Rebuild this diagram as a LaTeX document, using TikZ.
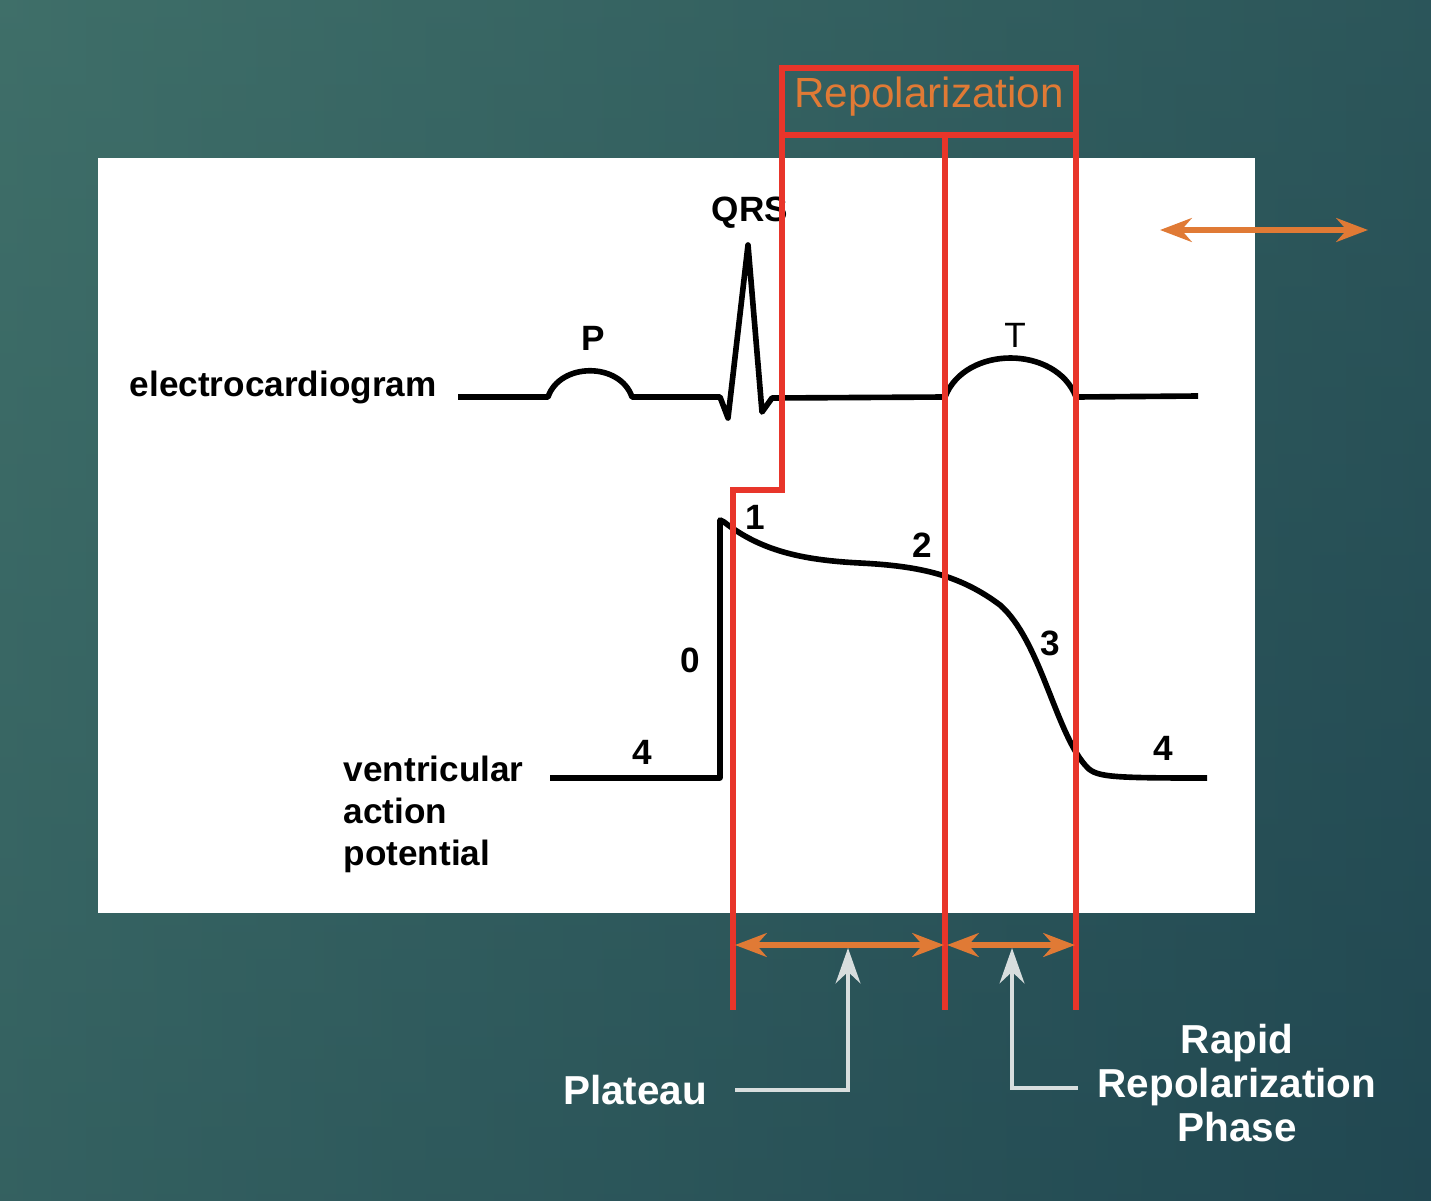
\documentclass[tikz,border=0pt]{standalone}
\usepackage{fontspec}
\setmainfont{Liberation Sans}
\usetikzlibrary{arrows.meta, positioning}
\definecolor{bgtop}{HTML}{3F6F69}
\definecolor{bgdark}{HTML}{1F4550}
\definecolor{redline}{HTML}{E8352A}
\definecolor{orangeline}{HTML}{E07A35}
\definecolor{pointer}{HTML}{D8DEDE}
\tikzset{
  trace/.style={line width=1.6pt, black, line join=round},
  redbar/.style={line width=1.8pt, redline},
  span/.style={{Stealth[length=9pt]}-{Stealth[length=9pt]}, line width=1.6pt, orangeline},
  callout/.style={-{Stealth[length=10pt,width=7pt]}, line width=1.3pt, pointer},
  plotlabel/.style={font=\fontsize{10}{12}\selectfont\bfseries, black},
  sidelabel/.style={font=\fontsize{11.5}{12.5}\selectfont\bfseries, white, align=center}
}
\begin{document}
\begin{tikzpicture}[x=0.01cm, y=-0.01cm]

    % background and white panel
    \useasboundingbox (0,0) rectangle (1431,1200);
    \shade[top color=bgtop, bottom color=bgdark!85!bgtop] (0,0) rectangle (1431,1200);
    \shade[left color=bgtop, right color=bgdark, opacity=0.6] (0,0) rectangle (1431,1200);
    \fill[white] (98,158) rectangle (1255,913);

    % electrocardiogram trace
    \draw[trace] (458,397) -- (548,397) .. controls (560,362) and (620,362) .. (632,397)
      -- (720,397) -- (728,418) -- (748,245) -- (762,412) -- (772,398) -- (945,397)
      .. controls (965,345) and (1056,345) .. (1076,397) -- (1198,396);

    % ventricular action potential
    \draw[trace] (550,778) -- (720,778) -- (720,520) -- (724,522)
      .. controls (760,550) and (800,560) .. (860,563)
      .. controls (920,566) and (960,575) .. (1000,605)
      .. controls (1040,640) and (1055,730) .. (1085,765)
      .. controls (1095,777) and (1105,778) .. (1207,778);

    % labels on the plot
    \node[plotlabel, anchor=east] (ecg) at (449,387) {electrocardiogram};
    \node[plotlabel] (p) at (593,338) {P};
    \node[plotlabel] (qrs) at (750,213) {QRS};
    \node[plotlabel, font=\fontsize{10}{12}\selectfont] (t) at (1015,335) {T};
    \node[plotlabel] (ph1) at (755,517) {1};
    \node[plotlabel] (ph2) at (922,545) {2};
    \node[plotlabel] (ph3) at (1050,643) {3};
    \node[plotlabel] (ph0) at (690,660) {0};
    \node[plotlabel] (ph4a) at (642,752) {4};
    \node[plotlabel] (ph4b) at (1163,748) {4};
    \node[plotlabel, anchor=north west, align=left, inner sep=0pt] (vap) at (343,755)
      {ventricular\\action\\potential};

    % red phase lines and box
    \draw[redbar] (782,68) rectangle (1076,135);
    \node[text=orangeline, font=\fontsize{12}{14}\selectfont] (repol) at (929,97) {Repolarization};
    \draw[redbar] (733,1010) -- (733,490) -- (782,490) -- (782,135);
    \draw[redbar] (945,135) -- (945,1010);
    \draw[redbar] (1076,135) -- (1076,1010);

    % spans
    \coordinate (s0) at (735,945);
    \coordinate (s1) at (944,945);
    \coordinate (s2) at (947,945);
    \coordinate (s3) at (1075,945);
    \draw[span] (s0) -- (s1);
    \draw[span] (s2) -- (s3);
    \coordinate (k0) at (1160,230);
    \coordinate (k1) at (1368,230);
    \draw[span] (k0) -- (k1);

    % side labels with callouts
    \node[sidelabel] (plat) at (635,1090) {Plateau};
    \node[sidelabel] (rapid) at (1237,1083) {Rapid\\Repolarization\\Phase};
    \draw[callout] (735,1090) -| (848,948);
    \draw[callout] (1078,1088) -| (1012,948);

\end{tikzpicture}
\end{document}
